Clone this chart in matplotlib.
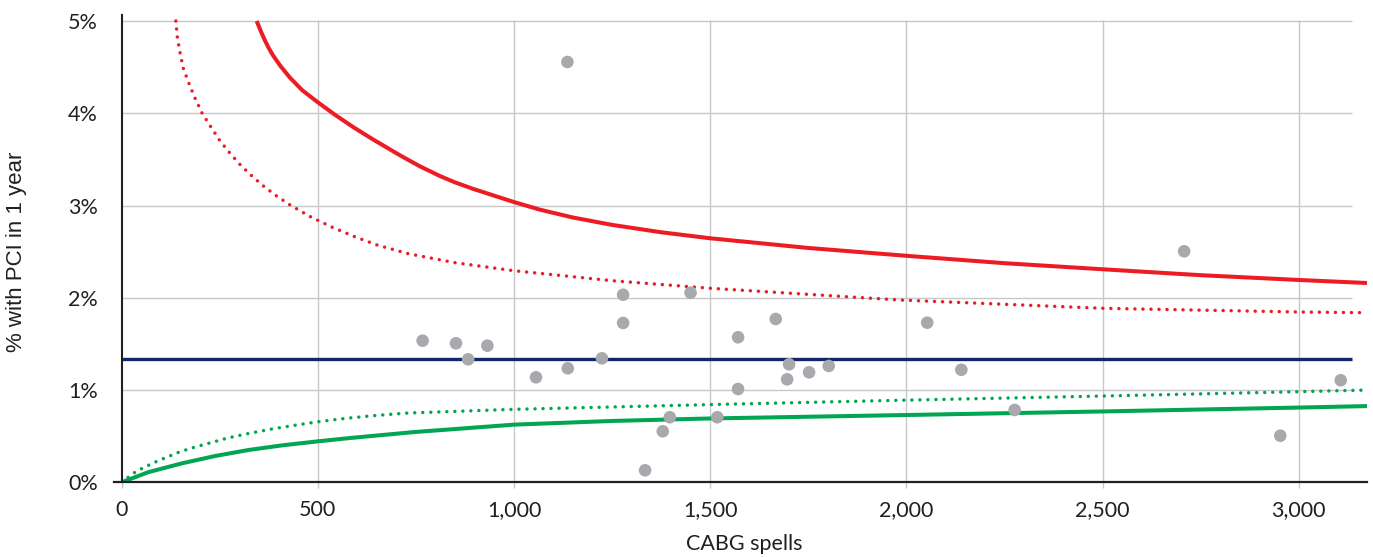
import matplotlib
matplotlib.use("Agg")
import matplotlib.pyplot as plt

# ---------------- data ----------------
spells = [767, 852, 883, 932, 1056, 1137, 1136, 1224, 1278, 1278, 1334, 1379, 1397,
          1450, 1518, 1571, 1571, 1667, 1701, 1696, 1752, 1802, 2053, 2140, 2276,
          2708, 2953, 3107]
pct_pci = [1.535, 1.507, 1.333, 1.481, 1.138, 1.236, 4.556, 1.344, 2.033, 1.727,
           0.130, 0.553, 0.705, 2.055, 0.705, 1.572, 1.011, 1.770, 1.279, 1.116,
           1.192, 1.261, 1.730, 1.220, 0.784, 2.504, 0.505, 1.106]

mean_pct = 1.336

upper998_x = [344, 355, 365, 375, 386, 405, 429, 460, 498, 543, 590, 641, 709, 760,
              811, 850, 896, 998, 1066, 1150, 1250, 1375, 1500, 1750, 2000, 2250,
              2500, 2750, 3000, 3174]
upper998_y = [5.0, 4.885, 4.79, 4.705, 4.625, 4.51, 4.385, 4.25, 4.125, 3.985, 3.85,
              3.715, 3.545, 3.425, 3.32, 3.25, 3.18, 3.04, 2.955, 2.87, 2.79, 2.71,
              2.645, 2.54, 2.455, 2.375, 2.309, 2.245, 2.193, 2.16]

upper95_x = [138, 142, 149, 157, 172, 187, 205, 227, 249, 274, 301, 329, 361, 395,
             429, 482, 537, 594, 651, 730, 850, 1000, 1250, 1500, 1983, 2500, 3000,
             3174]
upper95_y = [5.0, 4.819, 4.650, 4.487, 4.317, 4.162, 4.0, 3.854, 3.71, 3.577, 3.447,
             3.331, 3.212, 3.103, 3.006, 2.876, 2.764, 2.662, 2.572, 2.478, 2.38,
             2.293, 2.185, 2.103, 1.976, 1.886, 1.846, 1.838]

lower998_x = [0, 68, 153, 238, 323, 408, 498, 577, 663, 747, 1000, 1250, 1500, 1983,
              2500, 3000, 3174]
lower998_y = [0.0, 0.11, 0.205, 0.285, 0.35, 0.40, 0.443, 0.478, 0.512, 0.545, 0.625,
              0.665, 0.692, 0.728, 0.768, 0.81, 0.826]

lower95_x = [0, 21, 38, 58, 75, 93, 112, 149, 188, 228, 268, 307, 346, 386, 447, 507,
             569, 628, 688, 730, 1000, 1500, 1983, 2500, 3000, 3174]
lower95_y = [0.0, 0.068, 0.122, 0.163, 0.198, 0.234, 0.267, 0.332, 0.383, 0.430,
             0.478, 0.515, 0.548, 0.58, 0.622, 0.66, 0.692, 0.717, 0.738, 0.751,
             0.791, 0.842, 0.889, 0.935, 0.982, 1.0]

x_ticks = [0, 500, 1000, 1500, 2000, 2500, 3000]
x_tick_labels = ["0", "500", "1,000", "1,500", "2,000", "2,500", "3,000"]
y_ticks = [0, 1, 2, 3, 4, 5]
y_tick_labels = ["0%", "1%", "2%", "3%", "4%", "5%"]

x_label = "CABG spells"
y_label = "% with PCI in 1 year"

# ---------------- style ----------------
RED = "#ED1C24"
GREEN = "#00A651"
NAVY = "#13256B"
POINT = "#A7A9AC"
GRID = "#C6C7C9"
AXIS = "#231F20"
TEXT = "#231F20"

W, H = 1373, 557
fig = plt.figure(figsize=(W / 100, H / 100), dpi=100)
ax = fig.add_axes([121.7 / W, 1 - 482.3 / H, (1367 - 121.7) / W, (482.3 - 15) / H])

XMAX = 3174
YMAX = 5.065
GRID_END = 3135
ax.set_xlim(0, XMAX)
ax.set_ylim(0, YMAX)

for s in ["top", "right", "bottom"]:
    ax.spines[s].set_visible(False)
ax.spines["left"].set_color(AXIS)
ax.spines["left"].set_linewidth(1.5)
ax.spines["left"].set_zorder(6)

# gridlines
ax.hlines(y_ticks[1:], 0, GRID_END, colors=GRID, linewidth=1.0, zorder=1)
ax.vlines(x_ticks[1:], 0, YMAX - 0.05, colors=GRID, linewidth=1.0, zorder=1)

# bottom axis line (extends a little left of y axis)
ax.axhline(0, xmin=-0.0065, xmax=1.0, color=AXIS, linewidth=1.6, clip_on=False, zorder=7)

# mean line
ax.hlines(mean_pct, 0, GRID_END, colors=NAVY, linewidth=2.4, zorder=3)

# funnel limits
dot = (0, (0.01, 2.3))
ax.plot(upper998_x, upper998_y, color=RED, linewidth=2.9, solid_capstyle="butt",
        solid_joinstyle="round", zorder=4)
ax.plot(upper95_x, upper95_y, color=RED, linewidth=2.5, linestyle=dot,
        dash_capstyle="round", zorder=4)
ax.plot(lower998_x, lower998_y, color=GREEN, linewidth=2.9, solid_capstyle="butt",
        solid_joinstyle="round", zorder=4)
ax.plot(lower95_x, lower95_y, color=GREEN, linewidth=2.5, linestyle=dot,
        dash_capstyle="round", zorder=4)

# points
ax.scatter(spells, pct_pci, s=82, color=POINT, edgecolors="none", zorder=5)

# ticks
ax.set_xticks(x_ticks)
ax.set_xticklabels(x_tick_labels, fontfamily="Lato", fontsize=15.5, color=TEXT)
ax.set_yticks(y_ticks)
ax.set_yticklabels(y_tick_labels, fontfamily="Lato", fontsize=15.5, color=TEXT)
ax.tick_params(axis="x", length=4, width=1.0, color=GRID, pad=9)
ax.tick_params(axis="y", length=0, pad=17)

ax.set_xlabel(x_label, fontfamily="Lato", fontsize=15.5, color=TEXT, labelpad=10)
fig.text(17 / W, 1 - 252 / H, y_label, rotation=90, ha="center", va="center",
         fontfamily="Liberation Sans", fontsize=16, color=TEXT)

fig.savefig("out.png", dpi=100)
